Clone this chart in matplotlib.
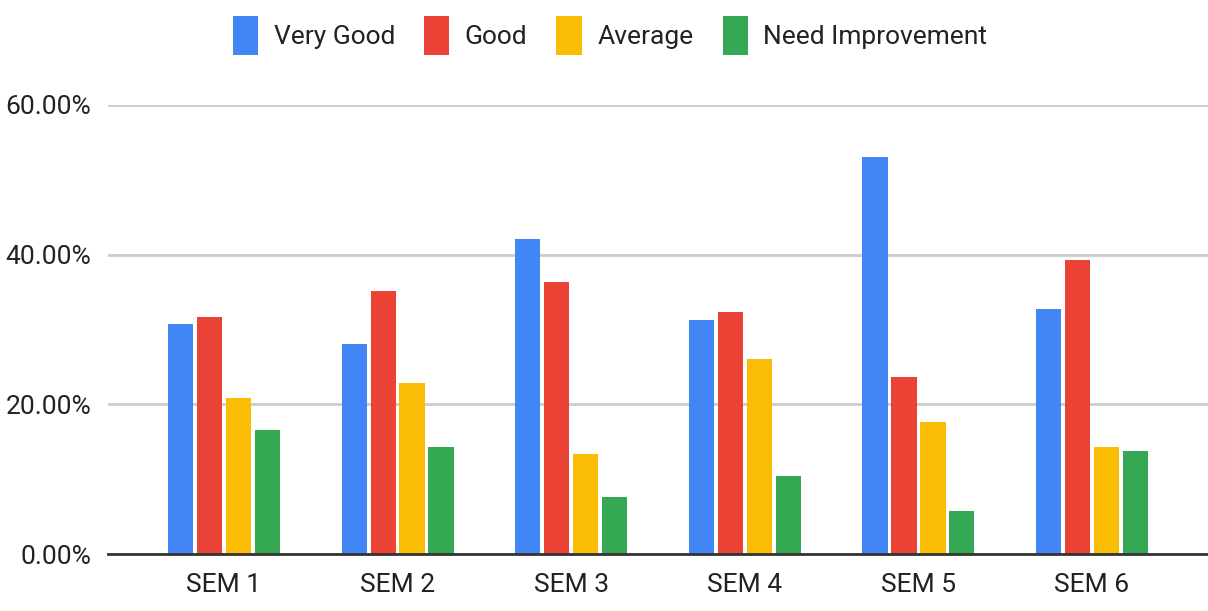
import matplotlib
matplotlib.use("Agg")
import matplotlib.pyplot as plt
from matplotlib import font_manager
from matplotlib.ticker import FuncFormatter
import numpy as np

categories = ["SEM 1", "SEM 2", "SEM 3", "SEM 4", "SEM 5", "SEM 6"]
very_good = [30.8, 28.0, 42.1, 31.3, 53.1, 32.7]
good = [31.7, 35.1, 36.4, 32.3, 23.7, 39.3]
average = [20.9, 22.8, 13.3, 26.1, 17.6, 14.3]
need_improvement = [16.6, 14.3, 7.6, 10.4, 5.8, 13.8]
series_names = ["Very Good", "Good", "Average", "Need Improvement"]
colors = ["#4285F4", "#EA4335", "#FBBC04", "#34A853"]
yticks = [0, 20, 40, 60]

available = {f.name for f in font_manager.fontManager.ttflist}
family = "Roboto"
for cand in ["Liberation Sans Narrow", "DejaVu Sans Condensed", "Roboto"]:
    if cand in available:
        family = cand
        break
plt.rcParams["font.family"] = [family, "DejaVu Sans"]

fig = plt.figure(figsize=(12.08, 6.11), dpi=100)
ax = fig.add_axes([108 / 1208, 57 / 611, 1100 / 1208, 449 / 611])

x = np.arange(len(categories))
pitch = 0.167
width = 0.145
data = [very_good, good, average, need_improvement]
for i, (vals, name, c) in enumerate(zip(data, series_names, colors)):
    ax.bar(x + (i - 1.5) * pitch, vals, width=width, color=c, label=name, zorder=3)

ax.set_xlim(-0.668, 5.668)
ax.set_ylim(0, 60)
ax.set_yticks(yticks)
ax.yaxis.set_major_formatter(FuncFormatter(lambda v, p: f"{v:.2f}%"))
ax.set_xticks(x)
ax.set_xticklabels(categories)
ax.tick_params(axis="both", length=0, labelsize=19, colors="#222222")
ax.tick_params(axis="y", pad=12)
ax.tick_params(axis="x", pad=14)
ax.grid(axis="y", color="#cccccc", linewidth=2, zorder=0)
for s in ["top", "right", "left"]:
    ax.spines[s].set_visible(False)
ax.spines["bottom"].set_color("#333333")
ax.spines["bottom"].set_linewidth(2)
ax.spines["bottom"].set_zorder(4)

fig.legend(loc="upper center", bbox_to_anchor=(0.505, 1.012), ncol=4, frameon=False,
           fontsize=19, handlelength=0.95, handleheight=1.9, handletextpad=0.6,
           columnspacing=1.1, labelcolor="#222222")

fig.savefig("out.png", dpi=100)
